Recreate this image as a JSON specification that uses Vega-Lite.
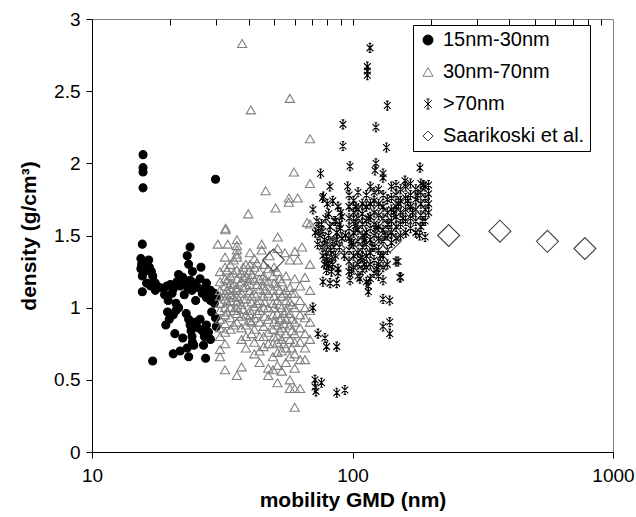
{
  "$schema": "https://vega.github.io/schema/vega-lite/v6.json",
  "width": 521,
  "height": 433,
  "autosize": {"type": "none"},
  "padding": {"left": 92, "top": 19, "right": 23, "bottom": 65},
  "config": {
    "font": "Liberation Sans",
    "view": {"stroke": "#808080", "strokeWidth": 1},
    "axis": {"domainColor": "black", "tickColor": "black", "labelColor": "black", "titleColor": "black", "grid": false}
  },
  "data": {"values": [
    {"group":"15nm-30nm","gmd":15.7,"density":2.06},{"group":"15nm-30nm","gmd":15.7,"density":1.97},{"group":"15nm-30nm","gmd":15.7,"density":1.94},{"group":"15nm-30nm","gmd":15.7,"density":1.83},{"group":"15nm-30nm","gmd":29.8,"density":1.89},{"group":"15nm-30nm","gmd":15.6,"density":1.44},{"group":"15nm-30nm","gmd":15.6,"density":1.11},{"group":"15nm-30nm","gmd":17.1,"density":0.63},
    {"group":"15nm-30nm","gmd":15.4,"density":1.34},{"group":"15nm-30nm","gmd":15.5,"density":1.30},{"group":"15nm-30nm","gmd":15.4,"density":1.27},{"group":"15nm-30nm","gmd":15.6,"density":1.22},{"group":"15nm-30nm","gmd":15.9,"density":1.25},{"group":"15nm-30nm","gmd":16.0,"density":1.31},{"group":"15nm-30nm","gmd":16.5,"density":1.33},{"group":"15nm-30nm","gmd":16.6,"density":1.28},{"group":"15nm-30nm","gmd":16.9,"density":1.25},{"group":"15nm-30nm","gmd":17.1,"density":1.22},{"group":"15nm-30nm","gmd":17.2,"density":1.18},{"group":"15nm-30nm","gmd":17.5,"density":1.17},{"group":"15nm-30nm","gmd":16.2,"density":1.17},{"group":"15nm-30nm","gmd":16.8,"density":1.15},
    {"group":"15nm-30nm","gmd":17.5,"density":1.12},{"group":"15nm-30nm","gmd":18.2,"density":1.14},{"group":"15nm-30nm","gmd":18.8,"density":1.13},{"group":"15nm-30nm","gmd":19.4,"density":1.15},{"group":"15nm-30nm","gmd":20.0,"density":1.16},{"group":"15nm-30nm","gmd":20.5,"density":1.13},{"group":"15nm-30nm","gmd":19.0,"density":1.09},{"group":"15nm-30nm","gmd":19.6,"density":1.05},{"group":"15nm-30nm","gmd":20.3,"density":1.10},{"group":"15nm-30nm","gmd":21.2,"density":1.18},{"group":"15nm-30nm","gmd":21.8,"density":1.15},{"group":"15nm-30nm","gmd":22.3,"density":1.21},{"group":"15nm-30nm","gmd":22.8,"density":1.17},{"group":"15nm-30nm","gmd":23.3,"density":1.14},{"group":"15nm-30nm","gmd":23.8,"density":1.19},{"group":"15nm-30nm","gmd":24.2,"density":1.12},{"group":"15nm-30nm","gmd":22.6,"density":1.09},{"group":"15nm-30nm","gmd":21.5,"density":1.23},{"group":"15nm-30nm","gmd":24.8,"density":1.17},{"group":"15nm-30nm","gmd":25.5,"density":1.14},{"group":"15nm-30nm","gmd":26.0,"density":1.20},{"group":"15nm-30nm","gmd":26.5,"density":1.10},{"group":"15nm-30nm","gmd":27.0,"density":1.13},{"group":"15nm-30nm","gmd":27.5,"density":1.07},{"group":"15nm-30nm","gmd":28.0,"density":1.09},{"group":"15nm-30nm","gmd":28.5,"density":1.05},{"group":"15nm-30nm","gmd":29.0,"density":1.08},{"group":"15nm-30nm","gmd":29.5,"density":1.03},{"group":"15nm-30nm","gmd":26.2,"density":1.28},{"group":"15nm-30nm","gmd":24.3,"density":1.25},{"group":"15nm-30nm","gmd":23.5,"density":1.30},{"group":"15nm-30nm","gmd":23.2,"density":1.36},{"group":"15nm-30nm","gmd":23.8,"density":1.42},{"group":"15nm-30nm","gmd":27.5,"density":1.17},{"group":"15nm-30nm","gmd":28.5,"density":1.12},{"group":"15nm-30nm","gmd":29.5,"density":1.10},{"group":"15nm-30nm","gmd":30.0,"density":1.07},{"group":"15nm-30nm","gmd":25.0,"density":1.05},{"group":"15nm-30nm","gmd":21.0,"density":1.03},
    {"group":"15nm-30nm","gmd":19.5,"density":0.97},{"group":"15nm-30nm","gmd":20.0,"density":0.94},{"group":"15nm-30nm","gmd":20.5,"density":0.95},{"group":"15nm-30nm","gmd":19.2,"density":0.88},{"group":"15nm-30nm","gmd":19.8,"density":0.92},{"group":"15nm-30nm","gmd":21.0,"density":0.98},{"group":"15nm-30nm","gmd":21.5,"density":1.00},{"group":"15nm-30nm","gmd":20.8,"density":0.82},{"group":"15nm-30nm","gmd":23.0,"density":0.96},{"group":"15nm-30nm","gmd":23.5,"density":0.92},{"group":"15nm-30nm","gmd":23.8,"density":0.88},{"group":"15nm-30nm","gmd":24.0,"density":0.84},{"group":"15nm-30nm","gmd":24.2,"density":0.80},{"group":"15nm-30nm","gmd":24.3,"density":0.76},{"group":"15nm-30nm","gmd":23.2,"density":0.72},{"group":"15nm-30nm","gmd":22.3,"density":0.79},{"group":"15nm-30nm","gmd":25.0,"density":0.90},{"group":"15nm-30nm","gmd":25.5,"density":0.86},{"group":"15nm-30nm","gmd":26.0,"density":0.92},{"group":"15nm-30nm","gmd":26.5,"density":0.84},{"group":"15nm-30nm","gmd":27.0,"density":0.80},{"group":"15nm-30nm","gmd":27.5,"density":0.88},{"group":"15nm-30nm","gmd":28.0,"density":0.83},{"group":"15nm-30nm","gmd":28.5,"density":0.78},{"group":"15nm-30nm","gmd":26.8,"density":0.74},{"group":"15nm-30nm","gmd":21.8,"density":0.70},{"group":"15nm-30nm","gmd":20.5,"density":0.68},{"group":"15nm-30nm","gmd":23.5,"density":0.66},{"group":"15nm-30nm","gmd":27.3,"density":0.65},{"group":"15nm-30nm","gmd":29.8,"density":0.93},{"group":"15nm-30nm","gmd":30.0,"density":0.87},{"group":"15nm-30nm","gmd":28.8,"density":0.97},{"group":"15nm-30nm","gmd":24.6,"density":0.74},

    {"group":"30nm-70nm","gmd":37.7,"density":2.83},{"group":"30nm-70nm","gmd":57.5,"density":2.45},{"group":"30nm-70nm","gmd":40.7,"density":2.37},{"group":"30nm-70nm","gmd":68.7,"density":2.17},{"group":"30nm-70nm","gmd":59.6,"density":1.94},{"group":"30nm-70nm","gmd":68.7,"density":1.86},{"group":"30nm-70nm","gmd":46.4,"density":1.81},{"group":"30nm-70nm","gmd":57.0,"density":1.76},{"group":"30nm-70nm","gmd":57.0,"density":1.73},{"group":"30nm-70nm","gmd":61.6,"density":1.76},{"group":"30nm-70nm","gmd":50.7,"density":1.69},{"group":"30nm-70nm","gmd":39.8,"density":1.65},{"group":"30nm-70nm","gmd":32.6,"density":1.55},{"group":"30nm-70nm","gmd":66.9,"density":1.59},{"group":"30nm-70nm","gmd":32.5,"density":1.54},
    {"group":"30nm-70nm","gmd":30.4,"density":1.44},{"group":"30nm-70nm","gmd":33.2,"density":1.44},{"group":"30nm-70nm","gmd":36.0,"density":1.47},{"group":"30nm-70nm","gmd":36.0,"density":1.43},{"group":"30nm-70nm","gmd":36.0,"density":1.40},{"group":"30nm-70nm","gmd":36.0,"density":1.37},{"group":"30nm-70nm","gmd":36.0,"density":1.35},{"group":"30nm-70nm","gmd":40.4,"density":1.38},{"group":"30nm-70nm","gmd":44.8,"density":1.44},{"group":"30nm-70nm","gmd":44.8,"density":1.40},{"group":"30nm-70nm","gmd":51.6,"density":1.49},{"group":"30nm-70nm","gmd":51.6,"density":1.41},{"group":"30nm-70nm","gmd":60.1,"density":1.39},{"group":"30nm-70nm","gmd":57.5,"density":1.33},{"group":"30nm-70nm","gmd":61.6,"density":1.33},{"group":"30nm-70nm","gmd":64.0,"density":1.42},{"group":"30nm-70nm","gmd":68.7,"density":1.58},{"group":"30nm-70nm","gmd":48.0,"density":1.36},{"group":"30nm-70nm","gmd":55.0,"density":1.38},
    {"group":"30nm-70nm","gmd":31.0,"density":0.66},{"group":"30nm-70nm","gmd":31.0,"density":0.71},{"group":"30nm-70nm","gmd":31.0,"density":0.80},{"group":"30nm-70nm","gmd":31.0,"density":0.86},{"group":"30nm-70nm","gmd":31.0,"density":0.92},{"group":"30nm-70nm","gmd":31.0,"density":0.98},{"group":"30nm-70nm","gmd":31.0,"density":1.03},{"group":"30nm-70nm","gmd":31.0,"density":1.08},{"group":"30nm-70nm","gmd":31.0,"density":1.12},{"group":"30nm-70nm","gmd":31.0,"density":1.18},{"group":"30nm-70nm","gmd":31.0,"density":1.25},
    {"group":"30nm-70nm","gmd":32.4,"density":0.57},{"group":"30nm-70nm","gmd":32.4,"density":0.75},{"group":"30nm-70nm","gmd":32.4,"density":0.83},{"group":"30nm-70nm","gmd":32.4,"density":0.89},{"group":"30nm-70nm","gmd":32.4,"density":0.95},{"group":"30nm-70nm","gmd":32.4,"density":1.00},{"group":"30nm-70nm","gmd":32.4,"density":1.06},{"group":"30nm-70nm","gmd":32.4,"density":1.10},{"group":"30nm-70nm","gmd":32.4,"density":1.15},{"group":"30nm-70nm","gmd":32.4,"density":1.20},{"group":"30nm-70nm","gmd":32.4,"density":1.28},{"group":"30nm-70nm","gmd":32.4,"density":1.35},
    {"group":"30nm-70nm","gmd":34.0,"density":0.85},{"group":"30nm-70nm","gmd":34.0,"density":0.93},{"group":"30nm-70nm","gmd":34.0,"density":1.00},{"group":"30nm-70nm","gmd":34.0,"density":1.05},{"group":"30nm-70nm","gmd":34.0,"density":1.09},{"group":"30nm-70nm","gmd":34.0,"density":1.13},{"group":"30nm-70nm","gmd":34.0,"density":1.17},{"group":"30nm-70nm","gmd":34.0,"density":1.22},{"group":"30nm-70nm","gmd":34.0,"density":1.30},
    {"group":"30nm-70nm","gmd":36.0,"density":0.53},{"group":"30nm-70nm","gmd":36.0,"density":0.90},{"group":"30nm-70nm","gmd":36.0,"density":0.96},{"group":"30nm-70nm","gmd":36.0,"density":1.00},{"group":"30nm-70nm","gmd":36.0,"density":1.04},{"group":"30nm-70nm","gmd":36.0,"density":1.08},{"group":"30nm-70nm","gmd":36.0,"density":1.12},{"group":"30nm-70nm","gmd":36.0,"density":1.14},{"group":"30nm-70nm","gmd":36.0,"density":1.20},{"group":"30nm-70nm","gmd":36.0,"density":1.26},
    {"group":"30nm-70nm","gmd":37.5,"density":0.59},{"group":"30nm-70nm","gmd":37.5,"density":0.78},{"group":"30nm-70nm","gmd":37.5,"density":0.86},{"group":"30nm-70nm","gmd":37.5,"density":0.94},{"group":"30nm-70nm","gmd":37.5,"density":1.02},{"group":"30nm-70nm","gmd":37.5,"density":1.10},{"group":"30nm-70nm","gmd":37.5,"density":1.18},{"group":"30nm-70nm","gmd":37.5,"density":1.24},
    {"group":"30nm-70nm","gmd":39.0,"density":0.72},{"group":"30nm-70nm","gmd":39.0,"density":0.80},{"group":"30nm-70nm","gmd":39.0,"density":0.88},{"group":"30nm-70nm","gmd":39.0,"density":0.95},{"group":"30nm-70nm","gmd":39.0,"density":1.06},{"group":"30nm-70nm","gmd":39.0,"density":1.15},{"group":"30nm-70nm","gmd":39.0,"density":1.22},{"group":"30nm-70nm","gmd":39.0,"density":1.30},
    {"group":"30nm-70nm","gmd":40.4,"density":0.91},{"group":"30nm-70nm","gmd":40.4,"density":0.95},{"group":"30nm-70nm","gmd":40.4,"density":0.98},{"group":"30nm-70nm","gmd":40.4,"density":1.12},{"group":"30nm-70nm","gmd":40.4,"density":1.16},{"group":"30nm-70nm","gmd":40.4,"density":1.20},{"group":"30nm-70nm","gmd":40.4,"density":1.26},{"group":"30nm-70nm","gmd":40.4,"density":1.30},
    {"group":"30nm-70nm","gmd":42.0,"density":0.68},{"group":"30nm-70nm","gmd":42.0,"density":0.76},{"group":"30nm-70nm","gmd":42.0,"density":0.85},{"group":"30nm-70nm","gmd":42.0,"density":0.93},{"group":"30nm-70nm","gmd":42.0,"density":1.01},{"group":"30nm-70nm","gmd":42.0,"density":1.10},{"group":"30nm-70nm","gmd":42.0,"density":1.19},{"group":"30nm-70nm","gmd":42.0,"density":1.28},{"group":"30nm-70nm","gmd":42.0,"density":1.34},
    {"group":"30nm-70nm","gmd":44.0,"density":0.62},{"group":"30nm-70nm","gmd":44.0,"density":0.70},{"group":"30nm-70nm","gmd":44.0,"density":0.80},{"group":"30nm-70nm","gmd":44.0,"density":0.90},{"group":"30nm-70nm","gmd":44.0,"density":0.98},{"group":"30nm-70nm","gmd":44.0,"density":1.05},{"group":"30nm-70nm","gmd":44.0,"density":1.13},{"group":"30nm-70nm","gmd":44.0,"density":1.20},{"group":"30nm-70nm","gmd":44.0,"density":1.25},
    {"group":"30nm-70nm","gmd":45.6,"density":0.73},{"group":"30nm-70nm","gmd":45.6,"density":0.80},{"group":"30nm-70nm","gmd":45.6,"density":0.87},{"group":"30nm-70nm","gmd":45.6,"density":1.15},{"group":"30nm-70nm","gmd":45.6,"density":1.00},{"group":"30nm-70nm","gmd":45.6,"density":1.08},{"group":"30nm-70nm","gmd":45.6,"density":1.22},{"group":"30nm-70nm","gmd":45.6,"density":1.30},
    {"group":"30nm-70nm","gmd":47.5,"density":0.53},{"group":"30nm-70nm","gmd":47.5,"density":0.58},{"group":"30nm-70nm","gmd":47.5,"density":0.75},{"group":"30nm-70nm","gmd":47.5,"density":0.83},{"group":"30nm-70nm","gmd":47.5,"density":0.92},{"group":"30nm-70nm","gmd":47.5,"density":1.00},{"group":"30nm-70nm","gmd":47.5,"density":1.10},{"group":"30nm-70nm","gmd":47.5,"density":1.18},{"group":"30nm-70nm","gmd":47.5,"density":1.27},
    {"group":"30nm-70nm","gmd":49.5,"density":0.57},{"group":"30nm-70nm","gmd":49.5,"density":0.66},{"group":"30nm-70nm","gmd":49.5,"density":0.75},{"group":"30nm-70nm","gmd":49.5,"density":0.85},{"group":"30nm-70nm","gmd":49.5,"density":0.95},{"group":"30nm-70nm","gmd":49.5,"density":1.03},{"group":"30nm-70nm","gmd":49.5,"density":1.12},{"group":"30nm-70nm","gmd":49.5,"density":1.22},
    {"group":"30nm-70nm","gmd":51.5,"density":0.48},{"group":"30nm-70nm","gmd":51.5,"density":0.60},{"group":"30nm-70nm","gmd":51.5,"density":0.69},{"group":"30nm-70nm","gmd":51.5,"density":0.76},{"group":"30nm-70nm","gmd":51.5,"density":0.80},{"group":"30nm-70nm","gmd":51.5,"density":0.88},{"group":"30nm-70nm","gmd":51.5,"density":0.96},{"group":"30nm-70nm","gmd":51.5,"density":1.05},{"group":"30nm-70nm","gmd":51.5,"density":1.15},{"group":"30nm-70nm","gmd":51.5,"density":1.25},
    {"group":"30nm-70nm","gmd":53.5,"density":0.56},{"group":"30nm-70nm","gmd":53.5,"density":0.70},{"group":"30nm-70nm","gmd":53.5,"density":0.78},{"group":"30nm-70nm","gmd":53.5,"density":0.86},{"group":"30nm-70nm","gmd":53.5,"density":0.93},{"group":"30nm-70nm","gmd":53.5,"density":1.00},{"group":"30nm-70nm","gmd":53.5,"density":1.08},{"group":"30nm-70nm","gmd":53.5,"density":1.18},
    {"group":"30nm-70nm","gmd":55.5,"density":0.62},{"group":"30nm-70nm","gmd":55.5,"density":0.72},{"group":"30nm-70nm","gmd":55.5,"density":0.82},{"group":"30nm-70nm","gmd":55.5,"density":0.92},{"group":"30nm-70nm","gmd":55.5,"density":0.98},{"group":"30nm-70nm","gmd":55.5,"density":1.05},{"group":"30nm-70nm","gmd":55.5,"density":1.12},{"group":"30nm-70nm","gmd":55.5,"density":1.22},
    {"group":"30nm-70nm","gmd":57.5,"density":0.44},{"group":"30nm-70nm","gmd":57.5,"density":0.50},{"group":"30nm-70nm","gmd":57.5,"density":0.66},{"group":"30nm-70nm","gmd":57.5,"density":0.78},{"group":"30nm-70nm","gmd":57.5,"density":0.88},{"group":"30nm-70nm","gmd":57.5,"density":0.96},{"group":"30nm-70nm","gmd":57.5,"density":1.04},{"group":"30nm-70nm","gmd":57.5,"density":1.14},
    {"group":"30nm-70nm","gmd":60.0,"density":0.31},{"group":"30nm-70nm","gmd":60.0,"density":0.44},{"group":"30nm-70nm","gmd":60.0,"density":0.58},{"group":"30nm-70nm","gmd":60.0,"density":0.68},{"group":"30nm-70nm","gmd":60.0,"density":0.76},{"group":"30nm-70nm","gmd":60.0,"density":0.82},{"group":"30nm-70nm","gmd":60.0,"density":0.90},{"group":"30nm-70nm","gmd":60.0,"density":1.00},{"group":"30nm-70nm","gmd":60.0,"density":1.10},{"group":"30nm-70nm","gmd":60.0,"density":1.20},
    {"group":"30nm-70nm","gmd":62.9,"density":0.44},{"group":"30nm-70nm","gmd":62.9,"density":0.64},{"group":"30nm-70nm","gmd":62.9,"density":0.76},{"group":"30nm-70nm","gmd":62.9,"density":0.86},{"group":"30nm-70nm","gmd":62.9,"density":0.95},{"group":"30nm-70nm","gmd":62.9,"density":1.05},{"group":"30nm-70nm","gmd":62.9,"density":1.15},
    {"group":"30nm-70nm","gmd":65.7,"density":0.64},{"group":"30nm-70nm","gmd":65.7,"density":0.72},{"group":"30nm-70nm","gmd":65.7,"density":0.82},{"group":"30nm-70nm","gmd":65.7,"density":0.93},{"group":"30nm-70nm","gmd":65.7,"density":1.00},{"group":"30nm-70nm","gmd":65.7,"density":1.21},
    {"group":"30nm-70nm","gmd":68.7,"density":0.78},{"group":"30nm-70nm","gmd":68.7,"density":0.90},{"group":"30nm-70nm","gmd":68.7,"density":0.98},{"group":"30nm-70nm","gmd":68.7,"density":1.12},{"group":"30nm-70nm","gmd":68.7,"density":1.30},
    {"group":"30nm-70nm","gmd":33.0,"density":0.97},{"group":"30nm-70nm","gmd":33.0,"density":1.04},{"group":"30nm-70nm","gmd":33.0,"density":1.12},{"group":"30nm-70nm","gmd":33.0,"density":1.19},{"group":"30nm-70nm","gmd":33.0,"density":1.26},
    {"group":"30nm-70nm","gmd":35.0,"density":0.88},{"group":"30nm-70nm","gmd":35.0,"density":0.98},{"group":"30nm-70nm","gmd":35.0,"density":1.07},{"group":"30nm-70nm","gmd":35.0,"density":1.16},{"group":"30nm-70nm","gmd":35.0,"density":1.24},{"group":"30nm-70nm","gmd":35.0,"density":1.33},
    {"group":"30nm-70nm","gmd":38.0,"density":0.99},{"group":"30nm-70nm","gmd":38.0,"density":1.06},{"group":"30nm-70nm","gmd":38.0,"density":1.14},{"group":"30nm-70nm","gmd":38.0,"density":1.21},{"group":"30nm-70nm","gmd":38.0,"density":1.28},
    {"group":"30nm-70nm","gmd":41.0,"density":0.82},{"group":"30nm-70nm","gmd":41.0,"density":0.90},{"group":"30nm-70nm","gmd":41.0,"density":1.04},{"group":"30nm-70nm","gmd":41.0,"density":1.08},{"group":"30nm-70nm","gmd":41.0,"density":1.23},
    {"group":"30nm-70nm","gmd":43.0,"density":0.96},{"group":"30nm-70nm","gmd":43.0,"density":1.03},{"group":"30nm-70nm","gmd":43.0,"density":1.16},{"group":"30nm-70nm","gmd":43.0,"density":1.31},
    {"group":"30nm-70nm","gmd":46.0,"density":0.94},{"group":"30nm-70nm","gmd":46.0,"density":1.04},{"group":"30nm-70nm","gmd":46.0,"density":1.12},{"group":"30nm-70nm","gmd":46.0,"density":1.19},
    {"group":"30nm-70nm","gmd":50.0,"density":0.80},{"group":"30nm-70nm","gmd":50.0,"density":0.90},{"group":"30nm-70nm","gmd":50.0,"density":1.00},{"group":"30nm-70nm","gmd":50.0,"density":1.08},{"group":"30nm-70nm","gmd":50.0,"density":1.17},{"group":"30nm-70nm","gmd":50.0,"density":1.28},
    {"group":"30nm-70nm","gmd":52.5,"density":0.84},{"group":"30nm-70nm","gmd":52.5,"density":0.92},{"group":"30nm-70nm","gmd":52.5,"density":1.02},{"group":"30nm-70nm","gmd":52.5,"density":1.12},{"group":"30nm-70nm","gmd":52.5,"density":1.20},
    {"group":"30nm-70nm","gmd":54.5,"density":0.75},{"group":"30nm-70nm","gmd":54.5,"density":0.89},{"group":"30nm-70nm","gmd":54.5,"density":0.96},{"group":"30nm-70nm","gmd":54.5,"density":1.10},
    {"group":"30nm-70nm","gmd":58.5,"density":0.72},{"group":"30nm-70nm","gmd":58.5,"density":0.84},{"group":"30nm-70nm","gmd":58.5,"density":0.92},{"group":"30nm-70nm","gmd":58.5,"density":1.02},{"group":"30nm-70nm","gmd":58.5,"density":1.10},

    {"group":">70nm","gmd":116.7,"density":2.80},{"group":">70nm","gmd":114,"density":2.67},{"group":">70nm","gmd":114,"density":2.64},{"group":">70nm","gmd":114,"density":2.61},{"group":">70nm","gmd":136,"density":2.40},{"group":">70nm","gmd":91.9,"density":2.27},{"group":">70nm","gmd":123,"density":2.25},{"group":">70nm","gmd":91.9,"density":2.12},{"group":">70nm","gmd":135,"density":2.11},{"group":">70nm","gmd":97.8,"density":1.98},{"group":">70nm","gmd":123,"density":2.00},{"group":">70nm","gmd":122,"density":1.95},{"group":">70nm","gmd":75.4,"density":1.93},{"group":">70nm","gmd":181.5,"density":1.97},{"group":">70nm","gmd":131,"density":1.93},{"group":">70nm","gmd":131,"density":1.90},{"group":">70nm","gmd":81.9,"density":1.84},{"group":">70nm","gmd":95.8,"density":1.84},{"group":">70nm","gmd":159,"density":1.88},{"group":">70nm","gmd":187,"density":1.85},
    {"group":">70nm","gmd":77.3,"density":1.77},{"group":">70nm","gmd":76.7,"density":1.76},{"group":">70nm","gmd":70.5,"density":1.68},{"group":">70nm","gmd":80,"density":1.72},{"group":">70nm","gmd":84,"density":1.74},{"group":">70nm","gmd":88,"density":1.70},{"group":">70nm","gmd":90,"density":1.66},{"group":">70nm","gmd":73,"density":1.60},{"group":">70nm","gmd":76,"density":1.58},{"group":">70nm","gmd":79,"density":1.62},{"group":">70nm","gmd":82,"density":1.56},{"group":">70nm","gmd":86,"density":1.60},{"group":">70nm","gmd":90,"density":1.55},{"group":">70nm","gmd":72,"density":1.52},{"group":">70nm","gmd":75,"density":1.50},{"group":">70nm","gmd":78,"density":1.47},{"group":">70nm","gmd":81,"density":1.50},{"group":">70nm","gmd":84,"density":1.46},{"group":">70nm","gmd":87,"density":1.52},{"group":">70nm","gmd":91,"density":1.48},{"group":">70nm","gmd":73.5,"density":1.44},{"group":">70nm","gmd":76.5,"density":1.42},{"group":">70nm","gmd":79.5,"density":1.38},{"group":">70nm","gmd":82.5,"density":1.40},{"group":">70nm","gmd":86,"density":1.36},{"group":">70nm","gmd":89,"density":1.42},{"group":">70nm","gmd":79.5,"density":1.33},{"group":">70nm","gmd":80,"density":1.31},{"group":">70nm","gmd":81,"density":1.29},{"group":">70nm","gmd":84,"density":1.30},{"group":">70nm","gmd":88,"density":1.27},{"group":">70nm","gmd":79.5,"density":1.26},
    {"group":">70nm","gmd":74,"density":1.55},{"group":">70nm","gmd":77,"density":1.53},{"group":">70nm","gmd":80,"density":1.44},{"group":">70nm","gmd":83,"density":1.35},{"group":">70nm","gmd":85,"density":1.42},{"group":">70nm","gmd":87,"density":1.47},{"group":">70nm","gmd":89,"density":1.58},{"group":">70nm","gmd":91,"density":1.63},{"group":">70nm","gmd":93,"density":1.36},{"group":">70nm","gmd":94,"density":1.50},{"group":">70nm","gmd":77,"density":1.36},{"group":">70nm","gmd":78,"density":1.30},{"group":">70nm","gmd":83,"density":1.25},{"group":">70nm","gmd":85,"density":1.60},{"group":">70nm","gmd":81,"density":1.65},
    {"group":">70nm","gmd":97,"density":1.25},{"group":">70nm","gmd":97,"density":1.32},{"group":">70nm","gmd":97,"density":1.40},{"group":">70nm","gmd":97,"density":1.48},{"group":">70nm","gmd":97,"density":1.55},{"group":">70nm","gmd":97,"density":1.62},{"group":">70nm","gmd":97,"density":1.70},{"group":">70nm","gmd":97,"density":1.78},
    {"group":">70nm","gmd":101,"density":1.28},{"group":">70nm","gmd":101,"density":1.36},{"group":">70nm","gmd":101,"density":1.44},{"group":">70nm","gmd":101,"density":1.52},{"group":">70nm","gmd":101,"density":1.60},{"group":">70nm","gmd":101,"density":1.66},{"group":">70nm","gmd":101,"density":1.74},
    {"group":">70nm","gmd":105,"density":1.22},{"group":">70nm","gmd":105,"density":1.30},{"group":">70nm","gmd":105,"density":1.38},{"group":">70nm","gmd":105,"density":1.46},{"group":">70nm","gmd":105,"density":1.54},{"group":">70nm","gmd":105,"density":1.62},{"group":">70nm","gmd":105,"density":1.68},{"group":">70nm","gmd":105,"density":1.80},
    {"group":">70nm","gmd":109,"density":1.26},{"group":">70nm","gmd":109,"density":1.35},{"group":">70nm","gmd":109,"density":1.42},{"group":">70nm","gmd":109,"density":1.50},{"group":">70nm","gmd":109,"density":1.58},{"group":">70nm","gmd":109,"density":1.65},{"group":">70nm","gmd":109,"density":1.72},
    {"group":">70nm","gmd":113,"density":1.18},{"group":">70nm","gmd":113,"density":1.28},{"group":">70nm","gmd":113,"density":1.36},{"group":">70nm","gmd":113,"density":1.44},{"group":">70nm","gmd":113,"density":1.52},{"group":">70nm","gmd":113,"density":1.60},{"group":">70nm","gmd":113,"density":1.70},{"group":">70nm","gmd":113,"density":1.78},
    {"group":">70nm","gmd":117,"density":1.20},{"group":">70nm","gmd":117,"density":1.30},{"group":">70nm","gmd":117,"density":1.38},{"group":">70nm","gmd":117,"density":1.47},{"group":">70nm","gmd":117,"density":1.55},{"group":">70nm","gmd":117,"density":1.63},{"group":">70nm","gmd":117,"density":1.72},{"group":">70nm","gmd":117,"density":1.84},
    {"group":">70nm","gmd":121,"density":1.24},{"group":">70nm","gmd":121,"density":1.33},{"group":">70nm","gmd":121,"density":1.42},{"group":">70nm","gmd":121,"density":1.50},{"group":">70nm","gmd":121,"density":1.58},{"group":">70nm","gmd":121,"density":1.66},{"group":">70nm","gmd":121,"density":1.74},{"group":">70nm","gmd":121,"density":1.80},
    {"group":">70nm","gmd":126,"density":1.22},{"group":">70nm","gmd":126,"density":1.30},{"group":">70nm","gmd":126,"density":1.40},{"group":">70nm","gmd":126,"density":1.48},{"group":">70nm","gmd":126,"density":1.56},{"group":">70nm","gmd":126,"density":1.64},{"group":">70nm","gmd":126,"density":1.72},{"group":">70nm","gmd":126,"density":1.82},
    {"group":">70nm","gmd":131,"density":1.19},{"group":">70nm","gmd":131,"density":1.28},{"group":">70nm","gmd":131,"density":1.36},{"group":">70nm","gmd":131,"density":1.46},{"group":">70nm","gmd":131,"density":1.54},{"group":">70nm","gmd":131,"density":1.62},{"group":">70nm","gmd":131,"density":1.70},{"group":">70nm","gmd":131,"density":1.78},
    {"group":">70nm","gmd":136,"density":1.30},{"group":">70nm","gmd":136,"density":1.40},{"group":">70nm","gmd":136,"density":1.50},{"group":">70nm","gmd":136,"density":1.58},{"group":">70nm","gmd":136,"density":1.66},{"group":">70nm","gmd":136,"density":1.75},
    {"group":">70nm","gmd":141,"density":1.45},{"group":">70nm","gmd":141,"density":1.52},{"group":">70nm","gmd":141,"density":1.60},{"group":">70nm","gmd":141,"density":1.68},{"group":">70nm","gmd":141,"density":1.76},{"group":">70nm","gmd":141,"density":1.84},
    {"group":">70nm","gmd":147,"density":1.32},{"group":">70nm","gmd":147,"density":1.48},{"group":">70nm","gmd":147,"density":1.56},{"group":">70nm","gmd":147,"density":1.63},{"group":">70nm","gmd":147,"density":1.70},{"group":">70nm","gmd":147,"density":1.78},{"group":">70nm","gmd":147,"density":1.85},
    {"group":">70nm","gmd":153,"density":1.21},{"group":">70nm","gmd":153,"density":1.50},{"group":">70nm","gmd":153,"density":1.58},{"group":">70nm","gmd":153,"density":1.66},{"group":">70nm","gmd":153,"density":1.74},{"group":">70nm","gmd":153,"density":1.82},
    {"group":">70nm","gmd":160,"density":1.52},{"group":">70nm","gmd":160,"density":1.60},{"group":">70nm","gmd":160,"density":1.68},{"group":">70nm","gmd":160,"density":1.76},{"group":">70nm","gmd":160,"density":1.84},
    {"group":">70nm","gmd":167,"density":1.55},{"group":">70nm","gmd":167,"density":1.62},{"group":">70nm","gmd":167,"density":1.70},{"group":">70nm","gmd":167,"density":1.78},{"group":">70nm","gmd":167,"density":1.86},
    {"group":">70nm","gmd":175,"density":1.52},{"group":">70nm","gmd":175,"density":1.60},{"group":">70nm","gmd":175,"density":1.68},{"group":">70nm","gmd":175,"density":1.75},{"group":">70nm","gmd":175,"density":1.82},
    {"group":">70nm","gmd":183,"density":1.56},{"group":">70nm","gmd":183,"density":1.64},{"group":">70nm","gmd":183,"density":1.72},{"group":">70nm","gmd":183,"density":1.80},{"group":">70nm","gmd":183,"density":1.86},
    {"group":">70nm","gmd":190,"density":1.49},{"group":">70nm","gmd":190,"density":1.60},{"group":">70nm","gmd":190,"density":1.68},{"group":">70nm","gmd":190,"density":1.76},{"group":">70nm","gmd":190,"density":1.84},
    {"group":">70nm","gmd":196,"density":1.66},{"group":">70nm","gmd":196,"density":1.72},{"group":">70nm","gmd":196,"density":1.79},{"group":">70nm","gmd":196,"density":1.85},
    {"group":">70nm","gmd":99,"density":1.45},{"group":">70nm","gmd":103,"density":1.57},{"group":">70nm","gmd":107,"density":1.34},{"group":">70nm","gmd":111,"density":1.47},{"group":">70nm","gmd":115,"density":1.62},{"group":">70nm","gmd":119,"density":1.42},{"group":">70nm","gmd":123,"density":1.55},{"group":">70nm","gmd":128,"density":1.36},{"group":">70nm","gmd":133,"density":1.50},{"group":">70nm","gmd":138,"density":1.58},{"group":">70nm","gmd":144,"density":1.66},{"group":">70nm","gmd":150,"density":1.72},{"group":">70nm","gmd":156,"density":1.62},{"group":">70nm","gmd":163,"density":1.74},{"group":">70nm","gmd":170,"density":1.66},{"group":">70nm","gmd":178,"density":1.78},{"group":">70nm","gmd":186,"density":1.60},{"group":">70nm","gmd":111,"density":1.30},{"group":">70nm","gmd":124,"density":1.27},{"group":">70nm","gmd":103,"density":1.70},
    {"group":">70nm","gmd":82,"density":1.17},{"group":">70nm","gmd":87,"density":1.17},{"group":">70nm","gmd":77,"density":1.18},{"group":">70nm","gmd":115,"density":1.15},{"group":">70nm","gmd":115,"density":1.11},{"group":">70nm","gmd":131,"density":1.06},{"group":">70nm","gmd":139,"density":1.05},{"group":">70nm","gmd":131,"density":0.87},{"group":">70nm","gmd":139,"density":0.90},{"group":">70nm","gmd":139,"density":0.82},{"group":">70nm","gmd":70.5,"density":1.00},{"group":">70nm","gmd":73.7,"density":0.82},{"group":">70nm","gmd":78.4,"density":0.79},{"group":">70nm","gmd":79.5,"density":0.73},{"group":">70nm","gmd":87,"density":0.73},{"group":">70nm","gmd":71.8,"density":0.50},{"group":">70nm","gmd":71.8,"density":0.45},{"group":">70nm","gmd":76,"density":0.48},{"group":">70nm","gmd":72.4,"density":0.42},{"group":">70nm","gmd":87,"density":0.41},{"group":">70nm","gmd":93.5,"density":0.43},{"group":">70nm","gmd":106.8,"density":1.20},{"group":">70nm","gmd":99,"density":1.25},{"group":">70nm","gmd":97.8,"density":1.19},{"group":">70nm","gmd":88,"density":1.24},{"group":">70nm","gmd":152,"density":1.21},{"group":">70nm","gmd":149.5,"density":1.32},{"group":">70nm","gmd":181,"density":1.50},

    {"group":"Saarikoski et al.","gmd":49.7,"density":1.33},{"group":"Saarikoski et al.","gmd":85.1,"density":1.41},{"group":"Saarikoski et al.","gmd":139.3,"density":1.46},{"group":"Saarikoski et al.","gmd":234,"density":1.50},{"group":"Saarikoski et al.","gmd":368,"density":1.53},{"group":"Saarikoski et al.","gmd":560,"density":1.46},{"group":"Saarikoski et al.","gmd":780,"density":1.41}
  ]},
  "layer": [
    {
      "mark": {"type": "point", "opacity": 1, "strokeWidth": 1.1},
      "encoding": {
        "x": {
          "field": "gmd", "type": "quantitative",
          "scale": {"type": "log", "domain": [10, 1000], "nice": false},
          "axis": {"values": [10, 100, 1000], "format": "d", "title": "mobility GMD (nm)",
                   "tickSize": 6, "labelFontSize": 19, "labelPadding": 8, "labelFlush": false,
                   "titleFontSize": 21, "titleFontWeight": "bold", "titlePadding": 4}
        },
        "y": {
          "field": "density", "type": "quantitative",
          "scale": {"domain": [0, 3], "nice": false},
          "axis": {"values": [0, 0.5, 1, 1.5, 2, 2.5, 3], "format": "~g", "title": "density (g/cm³)",
                   "tickSize": 6, "labelFontSize": 19, "labelPadding": 6,
                   "titleFontSize": 21, "titleFontWeight": "bold", "titlePadding": 14}
        },
        "shape": {
          "field": "group", "type": "nominal",
          "scale": {"domain": ["15nm-30nm", "30nm-70nm", ">70nm", "Saarikoski et al."],
                    "range": ["circle", "triangle-up", "M0,-1L0,1M-0.75,-0.75L0.75,0.75M-0.75,0.75L0.75,-0.75M-0.3,-1L0.3,-1M-0.3,1L0.3,1", "diamond"]},
          "legend": {"title": null, "orient": "none", "legendX": 321, "legendY": 6,
                     "strokeColor": "black", "fillColor": "white", "padding": 5,
                     "labelFontSize": 20, "labelColor": "black", "rowPadding": 12, "labelOffset": 5,
                     "symbolStrokeWidth": 1,
                     "encode": {"symbols": {"size": {"value": {"expr": "datum.value === 'Saarikoski et al.' ? 225 : (datum.value === '15nm-30nm' ? 36 : 50)"}}}}}
        },
        "stroke": {
          "field": "group", "type": "nominal",
          "scale": {"domain": ["15nm-30nm", "30nm-70nm", ">70nm", "Saarikoski et al."],
                    "range": ["black", "#808080", "black", "#404040"]},
          "legend": {"title": null, "orient": "none", "legendX": 321, "legendY": 6, "rowPadding": 12,
                     "encode": {"symbols": {"size": {"value": {"expr": "datum.value === 'Saarikoski et al.' ? 225 : (datum.value === '15nm-30nm' ? 36 : 50)"}}}}}
        },
        "fill": {
          "field": "group", "type": "nominal",
          "scale": {"domain": ["15nm-30nm", "30nm-70nm", ">70nm", "Saarikoski et al."],
                    "range": ["black", "transparent", "transparent", "transparent"]},
          "legend": {"title": null, "orient": "none", "legendX": 321, "legendY": 6, "rowPadding": 12,
                     "encode": {"symbols": {"size": {"value": {"expr": "datum.value === 'Saarikoski et al.' ? 225 : (datum.value === '15nm-30nm' ? 36 : 50)"}}}}}
        },
        "size": {
          "condition": [
            {"test": "datum.group === 'Saarikoski et al.'", "value": 484},
            {"test": "datum.group === '15nm-30nm'", "value": 64},
            {"test": "datum.group === '30nm-70nm'", "value": 85}
          ],
          "value": 81
        }
      }
    },
    {
      "data": {"values": [{"gmd": 20}]},
      "mark": {"type": "point", "opacity": 0},
      "encoding": {
        "x": {
          "field": "gmd", "type": "quantitative",
          "axis": {"values": [20, 30, 40, 50, 60, 70, 80, 90, 100, 200, 300, 400, 500, 600, 700, 800, 900],
                   "tickSize": -6, "labels": false, "domain": false, "title": null}
        }
      }
    }
  ],
  "resolve": {"axis": {"x": "independent"}}
}
